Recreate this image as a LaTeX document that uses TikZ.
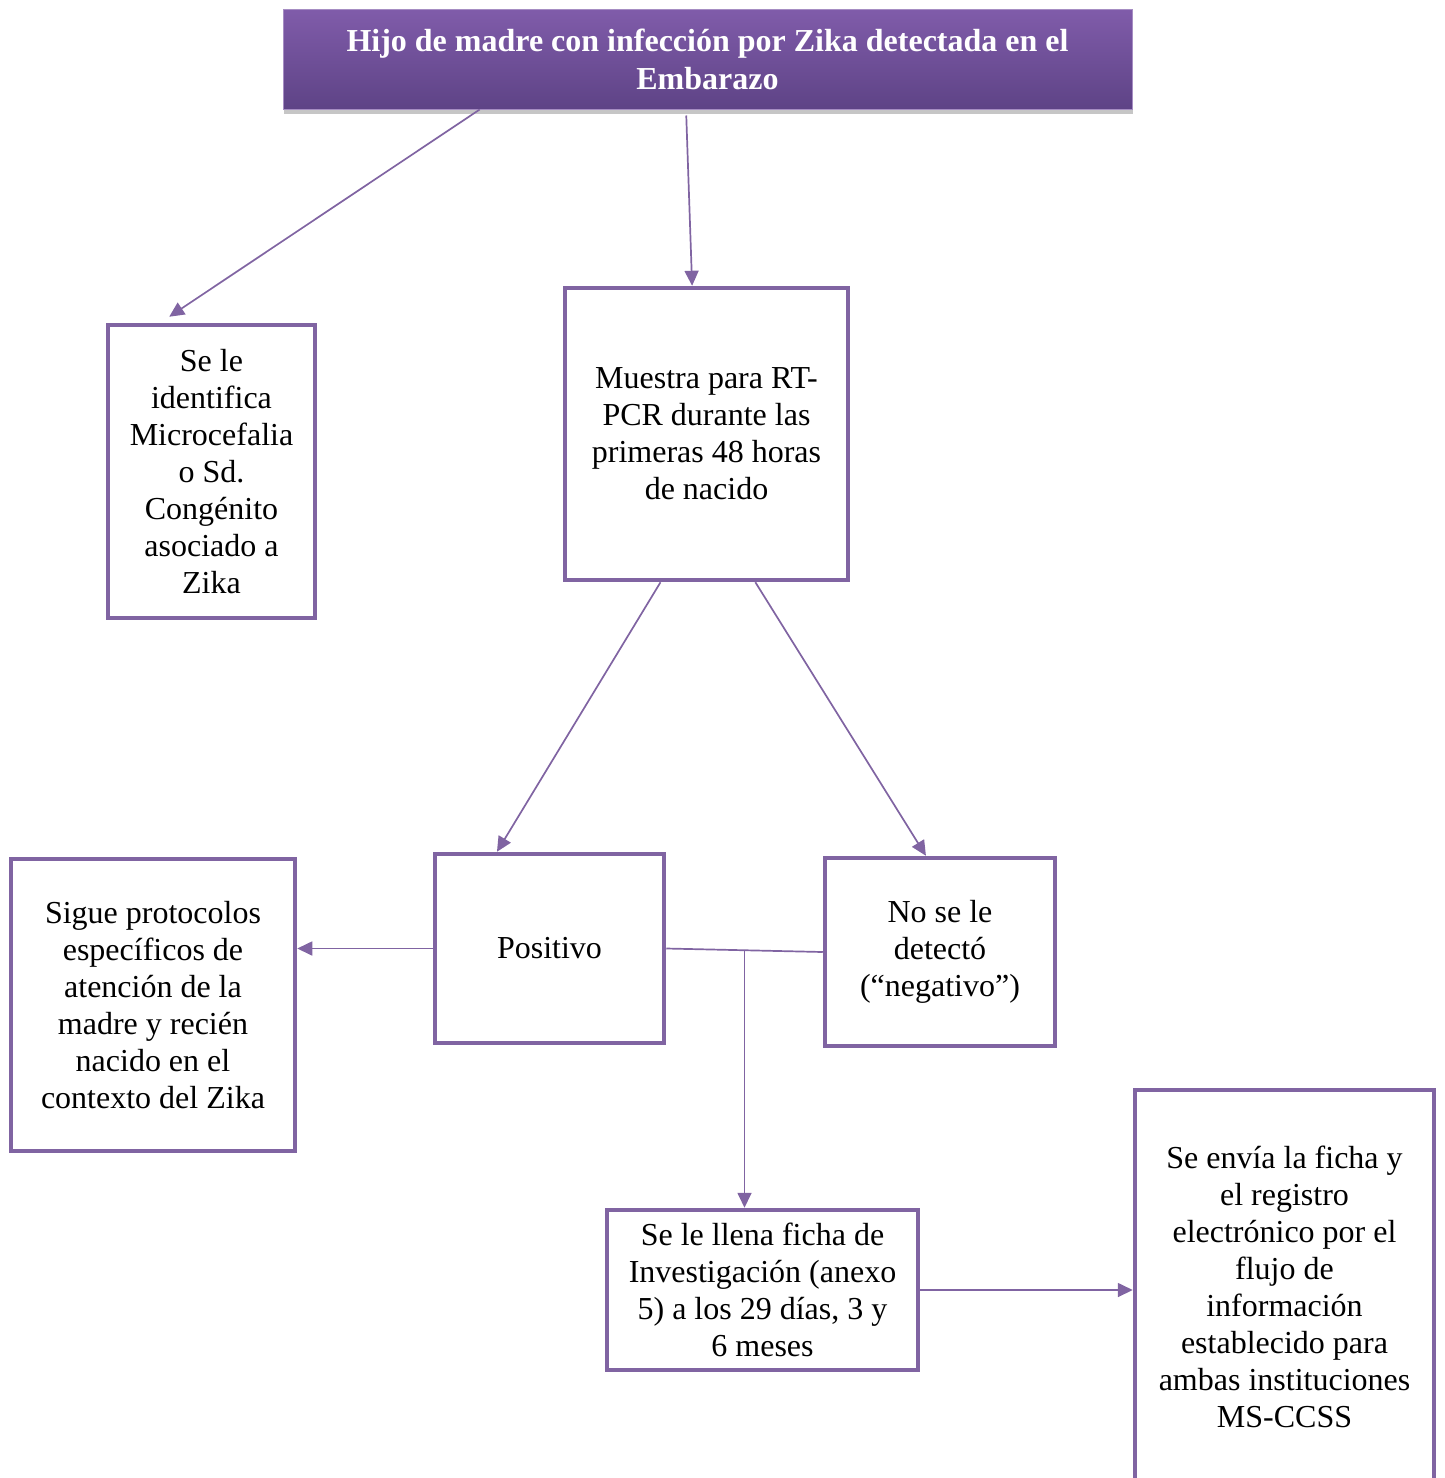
\documentclass[tikz,border=0pt]{standalone}
\usepackage{fontspec}
\setmainfont{Liberation Serif}
\usetikzlibrary{arrows.meta, positioning, calc, shadows}
\definecolor{zpurple}{RGB}{128,100,162}
\definecolor{ztop}{RGB}{128,92,170}
\definecolor{zbot}{RGB}{94,67,134}

\begin{document}
\begin{tikzpicture}[x=1pt, y=-1pt,
  box/.style={draw=zpurple, line width=4.5pt, align=center, inner sep=0pt, font=\fontsize{32}{37}\selectfont},
  arr/.style={-{Triangle[length=15pt, width=14pt]}, zpurple, line width=1.7pt},
  link/.style={zpurple, line width=1.7pt}]
  \useasboundingbox (0,0) rectangle (1445,1478);
  % Header
  \node[top color=ztop, bottom color=zbot, draw=ztop!70!white, line width=1pt,
        minimum width=849pt, minimum height=100pt, align=center, text=white,
        font=\bfseries\fontsize{32}{38}\selectfont,
        drop shadow={shadow xshift=1pt, shadow yshift=-5pt, opacity=0.45}]
        (hdr) at (707.5,59) {Hijo de madre con infección por Zika detectada en el\\Embarazo};
  % Boxes
  \node[box, minimum width=207pt, minimum height=293pt] (microc) at (211.5,471.5)
    {Se le\\identifica\\Microcefalia\\o Sd.\\Congénito\\asociado a\\Zika};
  \node[box, minimum width=283pt, minimum height=292pt] (muestra) at (706.5,434)
    {Muestra para RT-\\PCR durante las\\primeras 48 horas\\de nacido};
  \node[box, minimum width=284pt, minimum height=292pt] (sigue) at (153,1005)
    {Sigue protocolos\\específicos de\\atención de la\\madre y recién\\nacido en el\\contexto del Zika};
  \node[box, minimum width=229pt, minimum height=189pt] (pos) at (549.5,948.5) {Positivo};
  \node[box, minimum width=230pt, minimum height=188pt] (neg) at (940,952)
    {No se le\\detectó\\(“negativo”)};
  \node[box, minimum width=311pt, minimum height=160pt] (ficha) at (762.5,1290)
    {Se le llena ficha de\\Investigación (anexo\\5) a los 29 días, 3 y\\6 meses};
  \node[box, minimum width=299pt, minimum height=394pt] (envia) at (1284.5,1287)
    {Se envía la ficha y\\el registro\\electrónico por el\\flujo de\\información\\establecido para\\ambas instituciones\\MS-CCSS};
  % Connectors
  \draw[arr] ($(hdr.south west)!0.232!(hdr.south east)$) -- ($(microc.north west)!0.3!(microc.north east)+(0,-6)$);
  \draw[arr] ($(hdr.south west)!0.475!(hdr.south east)+(0,6)$) -- ($(muestra.north west)!0.45!(muestra.north east)$);
  \draw[arr] ($(muestra.south west)!0.34!(muestra.south east)$) -- ($(pos.north west)!0.275!(pos.north east)$);
  \draw[arr] ($(muestra.south west)!0.67!(muestra.south east)$) -- ($(neg.north west)!0.44!(neg.north east)$);
  \draw[arr] (pos.west) -- (sigue.east |- pos.west);
  \draw[link] (pos.east) -- (neg.west);
  \coordinate (jn) at ($(pos.east)!0.5!(neg.west)$);
  \draw[arr] (jn) -- (jn |- ficha.north);
  \draw[arr] (ficha.east) -- (envia.west |- ficha.east);
\end{tikzpicture}
\end{document}
